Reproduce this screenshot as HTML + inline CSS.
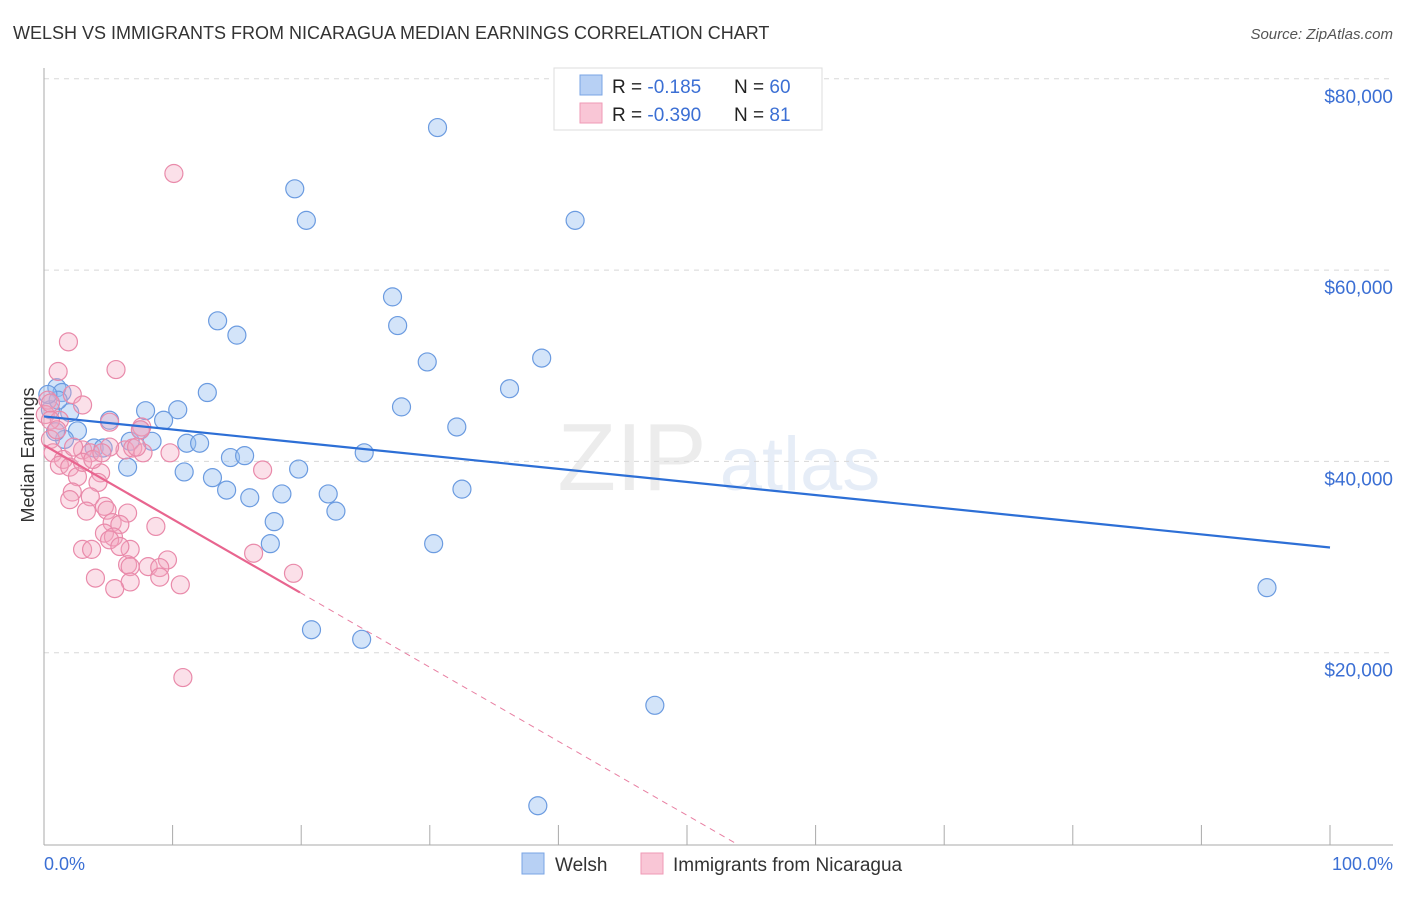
<!DOCTYPE html>
<html><head><meta charset="utf-8"><style>
body{margin:0;background:#fff;font-family:"Liberation Sans",sans-serif}
svg text{font-family:"Liberation Sans",sans-serif}
</style></head><body>
<svg id="chart" width="1406" height="892" viewBox="0 0 1406 892" xmlns="http://www.w3.org/2000/svg">
<text x="13" y="39" font-size="18" fill="#333">WELSH VS IMMIGRANTS FROM NICARAGUA MEDIAN EARNINGS CORRELATION CHART</text>
<text x="1393" y="39" font-size="15" fill="#555" font-style="italic" text-anchor="end">Source: ZipAtlas.com</text>
<g opacity="0.18">
<text x="632" y="490" font-size="96" fill="#999" text-anchor="middle" font-family="Liberation Serif">ZIP</text>
<text x="800" y="490" font-size="76" fill="#7a9fd8" text-anchor="middle">atlas</text>
</g>
<g id="grid"></g>
<g id="axes"></g>
<g id="marks"></g>
<text transform="translate(34,455) rotate(-90)" font-size="18" fill="#333" text-anchor="middle">Median Earnings</text>
<text x="44" y="870" font-size="18" fill="#3b6fd4">0.0%</text>
<text x="1393" y="870" font-size="18" fill="#3b6fd4" text-anchor="end">100.0%</text>
<g>
<rect x="554" y="68" width="268" height="62" fill="#fff" stroke="#ddd"/>
<rect x="580" y="75" width="22" height="20" fill="#b7d0f4" stroke="#7aa4e4"/>
<rect x="580" y="103" width="22" height="20" fill="#f9c6d6" stroke="#ef9ab6"/>
<text x="612" y="93" font-size="19" fill="#222">R = <tspan fill="#3b6fd4"> -0.185</tspan>  <tspan x="734">N = </tspan><tspan fill="#3b6fd4">60</tspan></text>
<text x="612" y="121" font-size="19" fill="#222">R = <tspan fill="#3b6fd4">-0.390</tspan>  <tspan x="734">N = </tspan><tspan fill="#3b6fd4"> 81</tspan></text>
</g>
<g>
<rect x="522" y="853" width="22" height="21" fill="#b7d0f4" stroke="#7aa4e4"/>
<text x="555" y="871" font-size="19" fill="#333">Welsh</text>
<rect x="641" y="853" width="22" height="21" fill="#f9c6d6" stroke="#ef9ab6"/>
<text x="673" y="871" font-size="19" fill="#333">Immigrants from Nicaragua</text>
</g>
</svg>
<script>
const yTicks=[20,40,60,80];
const yTickLabels=["$20,000","$40,000","$60,000","$80,000"];
const xTicks=[0,10,20,30,40,50,60,70,80,90,100];
const welshX=[30.6,19.5,20.4,41.3,27.1,13.5,15.0,27.5,29.8,38.7,36.2,12.7,27.8,1.0,1.4,7.9,10.4,5.1,9.3,32.1,2.6,24.9,6.7,8.4,11.1,12.1,3.9,4.6,14.5,15.6,19.8,10.9,6.5,13.1,14.2,16.0,18.5,22.1,22.7,32.5,17.9,17.6,30.3,20.8,24.7,47.5,38.4,95.1,2.0,0.5,1.6,0.9,7.5,1.1,0.3];
const welshY=[74.9,68.5,65.2,65.2,57.2,54.7,53.2,54.2,50.4,50.8,47.6,47.2,45.7,47.7,47.2,45.3,45.4,44.3,44.3,43.6,43.2,40.9,42.1,42.1,41.9,41.9,41.4,41.4,40.4,40.6,39.2,38.9,39.4,38.3,37.0,36.2,36.6,36.6,34.8,37.1,33.7,31.4,31.4,22.4,21.4,14.5,4.0,26.8,45.1,45.4,42.3,43.1,43.3,46.4,47.0];
const nicX=[10.1,1.9,5.6,1.1,2.2,3.0,0.3,0.1,1.2,0.5,5.1,7.6,7.5,3.0,0.7,1.5,1.2,2.0,2.6,4.4,6.3,6.9,7.7,9.8,17.0,3.6,4.2,2.2,2.0,3.6,4.7,3.3,4.9,6.5,5.3,5.9,8.7,4.7,5.4,6.7,5.1,5.9,3.0,3.7,6.5,6.7,8.1,9.6,9.0,9.0,4.0,6.7,10.6,5.5,10.8,16.3,19.4,0.5,0.5,1.0,2.3,3.0,5.1,7.2,3.8,4.5];
const nicY=[70.1,52.5,49.6,49.4,47.0,45.9,46.4,44.9,44.3,42.3,44.1,43.6,43.3,41.2,40.9,40.2,39.6,39.4,38.4,38.8,41.2,41.4,40.9,40.9,39.1,40.9,37.8,36.8,36.0,36.3,35.3,34.8,34.9,34.6,33.6,33.4,33.2,32.5,32.1,30.8,31.8,31.1,30.8,30.8,29.2,29.0,29.0,29.7,28.9,27.9,27.8,27.4,27.1,26.7,17.4,30.4,28.3,46.1,44.3,43.3,41.5,39.9,41.5,41.5,40.2,40.9];
const welshTrend=[44.7,31.0];      // value at 0% and 100%
const nicTrend=[41.7,-0.774];      // intercept, slope per %
const nicSolidEnd=19.9;
const NS='http://www.w3.org/2000/svg';
const sx=v=>44+v*12.86;
const sy=v=>844-v*9.565;
function mk(tag,attrs,parent){const e=document.createElementNS(NS,tag);for(const k in attrs)e.setAttribute(k,attrs[k]);document.getElementById(parent).appendChild(e);return e;}
yTicks.forEach((t,i)=>{
 const g=mk('line',{x1:44,x2:1393,y1:sy(t),y2:sy(t),stroke:'#d8d8d8','stroke-dasharray':'5,5'},'grid');
 
 
 const l=mk('text',{x:1393,y:sy(t)+24,'font-size':19,fill:'#3b6fd4','text-anchor':'end'},'grid');
 l.textContent=yTickLabels[i];
 
 
});
const ya=mk('line',{x1:44,x2:44,y1:68,y2:845,stroke:'#aaa'},'axes');


const xa=mk('line',{x1:44,x2:1393,y1:845,y2:845,stroke:'#aaa'},'axes');


xTicks.forEach(t=>{
 const tk=mk('line',{x1:sx(t),x2:sx(t),y1:825,y2:845,stroke:'#aaa'},'axes');
 
 
});
welshX.forEach((x,i)=>{
 const c=mk('circle',{cx:sx(x),cy:sy(welshY[i]),r:9,fill:'rgba(150,190,240,0.42)',stroke:'#6b9be0','stroke-width':1.2},'marks');
 
 
});
nicX.forEach((x,i)=>{
 const c=mk('circle',{cx:sx(x),cy:sy(nicY[i]),r:9,fill:'rgba(244,165,192,0.35)',stroke:'#e98aaa','stroke-width':1.2},'marks');
 
 
});
const wl=mk('line',{x1:sx(0),y1:sy(welshTrend[0]),x2:sx(100),y2:sy(welshTrend[1]),stroke:'#2d6fd6','stroke-width':2.2},'marks');


const nf=x=>nicTrend[0]+nicTrend[1]*x;
const zeroX=-nicTrend[0]/nicTrend[1];
const nd=mk('line',{x1:sx(nicSolidEnd),y1:sy(nf(nicSolidEnd)),x2:sx(zeroX),y2:sy(0),stroke:'#e87fa2','stroke-width':1,'stroke-dasharray':'6,5'},'marks');


const nl=mk('line',{x1:sx(0),y1:sy(nf(0)),x2:sx(nicSolidEnd),y2:sy(nf(nicSolidEnd)),stroke:'#e8658f','stroke-width':2.2},'marks');


</script>
</body></html>
